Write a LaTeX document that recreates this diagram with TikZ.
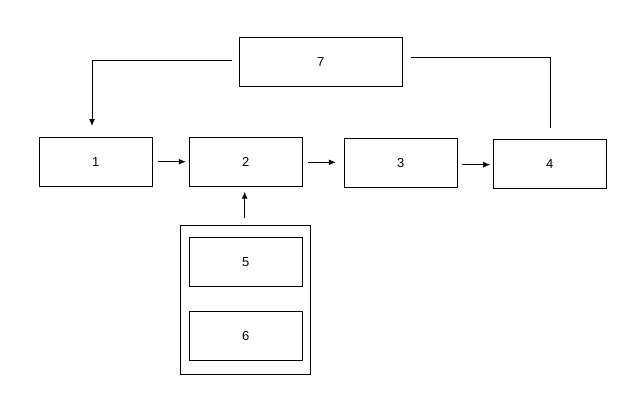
\documentclass[tikz,border=0pt]{standalone}
\usepackage{fontspec}
\setmainfont{Liberation Sans}
\usetikzlibrary{positioning,arrows.meta}

\tikzset{
    blockbox/.style={draw, line width=1pt, minimum width=113pt, minimum height=49pt,
        inner sep=0pt, font=\fontsize{13}{15}\selectfont},
    groupbox/.style={draw, line width=1pt, minimum width=130pt, minimum height=149pt, inner sep=0pt},
    link/.style={line width=1pt, -{Latex[length=7pt,width=6pt]}}
}

\begin{document}
\begin{tikzpicture}[x=1pt, y=-1pt]
    \useasboundingbox (0,0) rectangle (634,404);

    \node[blockbox, minimum width=163pt] (n7) at (320.8, 61.7) {7};

    \node[blockbox] (n1) at ( 95.8, 161.7) {1};
    \node[blockbox] (n2) at (245.8, 161.7) {2};
    \node[blockbox] (n3) at (400.8, 162.7) {3};
    \node[blockbox] (n4) at (549.8, 163.7) {4};

    \node[groupbox] (grp) at (245.3, 299.7) {};
    \node[blockbox] (n5) at (245.8, 261.8) {5};
    \node[blockbox] (n6) at (245.8, 335.8) {6};

    \coordinate (k1) at ( 92.0, 126.0);
    \coordinate (k4) at (550.7, 128.3);

    % feedback from 7
    \draw[link] ([xshift=-7pt, yshift=1pt]n7.west) -| (k1);
    \draw[line width=1pt] ([xshift=8pt, yshift=4pt]n7.east) -| (k4);

    % main chain
    \draw[link] ([xshift=5pt]n1.east) -- ([xshift=-3pt]n1.east -| n2.west);
    \draw[link] ([xshift=5pt, yshift=-0.6pt]n2.east) -- ([xshift=-8pt, yshift=-0.6pt]n2.east -| n3.west);
    \draw[link] ([xshift=4pt, yshift=-2pt]n3.east) -- ([xshift=-2.6pt, yshift=-2pt]n3.east -| n4.west);

    % group into 2
    \draw[link] ([xshift=-0.6pt, yshift=7pt]grp.north) -- ([xshift=-0.6pt, yshift=-5pt]grp.north |- n2.south);
\end{tikzpicture}
\end{document}
